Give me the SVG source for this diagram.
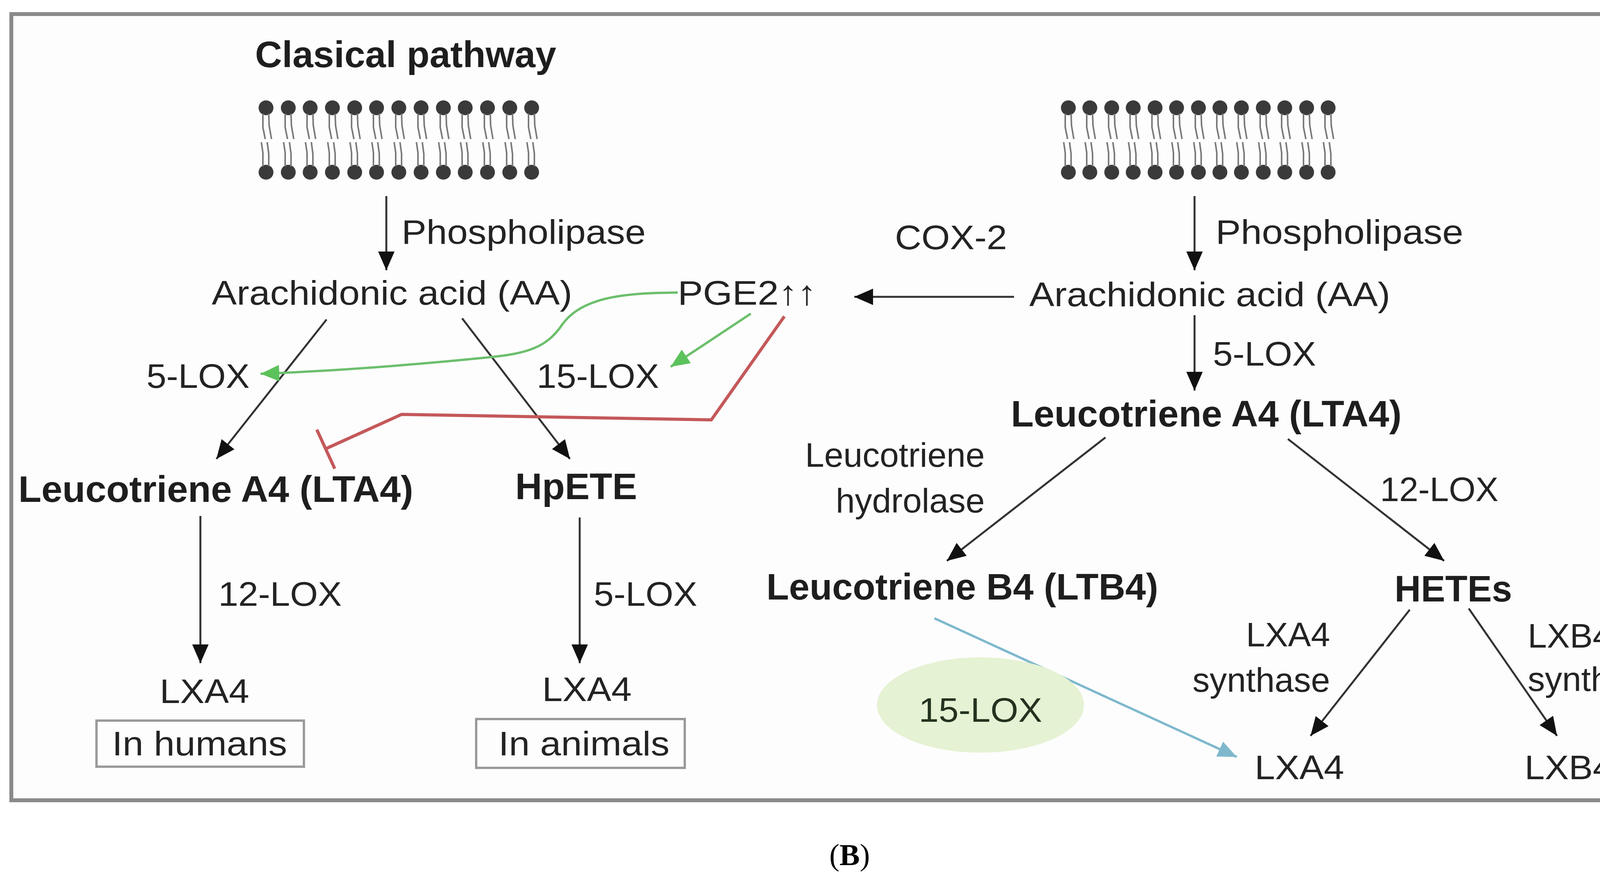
<svg xmlns="http://www.w3.org/2000/svg" xmlns:xlink="http://www.w3.org/1999/xlink" width="4357" height="2248" viewBox="0 0 4357 2248">
<style>
.t{font-family:"Liberation Sans",Arial,sans-serif;font-size:88px;fill:#232323}
.b{font-family:"Liberation Sans",Arial,sans-serif;font-size:94px;font-weight:bold;fill:#1e1e1e}
.ln{stroke:#333;stroke-width:5;fill:none}
.tail{stroke:#7a7a7a;stroke-width:4;fill:none}
</style>
<defs>
<marker id="ah" markerUnits="userSpaceOnUse" markerWidth="50" markerHeight="44" refX="48" refY="21" orient="auto"><path d="M0,0 L48,21 L0,42 z" fill="#111"/></marker>
<marker id="ag" markerUnits="userSpaceOnUse" markerWidth="50" markerHeight="44" refX="48" refY="21" orient="auto"><path d="M0,0 L48,21 L0,42 z" fill="#5cc25c"/></marker>
<marker id="ab" markerUnits="userSpaceOnUse" markerWidth="50" markerHeight="44" refX="48" refY="21" orient="auto"><path d="M0,0 L48,21 L0,42 z" fill="#7fb8cc"/></marker>
<g id="lipid">
<circle cx="0" cy="0" r="19" fill="#3a3a3a"/>
<path class="tail" d="M-8,15 L-8,50 L-2,80 M7,15 L8,45 L14,80"/>
<circle cx="0" cy="165" r="19" fill="#3a3a3a"/>
<path class="tail" d="M-8,150 L-8,115 L-12,88 M7,150 L7,118 L3,88"/>
</g>
</defs>
<rect x="0" y="0" width="4357" height="2248" fill="#fff"/>
<rect id="frame" x="29" y="36" width="4301" height="2013" fill="#fdfdfd" stroke="#8a8a8a" stroke-width="10"/>

<g id="membrane-left">
<use xlink:href="#lipid" x="681" y="276"/><use xlink:href="#lipid" x="738" y="276"/><use xlink:href="#lipid" x="794" y="276"/><use xlink:href="#lipid" x="851" y="276"/><use xlink:href="#lipid" x="908" y="276"/><use xlink:href="#lipid" x="964" y="276"/><use xlink:href="#lipid" x="1021" y="276"/><use xlink:href="#lipid" x="1078" y="276"/><use xlink:href="#lipid" x="1135" y="276"/><use xlink:href="#lipid" x="1191" y="276"/><use xlink:href="#lipid" x="1248" y="276"/><use xlink:href="#lipid" x="1305" y="276"/><use xlink:href="#lipid" x="1361" y="276"/>
</g>
<g id="membrane-right">
<use xlink:href="#lipid" x="2735" y="276"/><use xlink:href="#lipid" x="2790" y="276"/><use xlink:href="#lipid" x="2846" y="276"/><use xlink:href="#lipid" x="2901" y="276"/><use xlink:href="#lipid" x="2957" y="276"/><use xlink:href="#lipid" x="3012" y="276"/><use xlink:href="#lipid" x="3068" y="276"/><use xlink:href="#lipid" x="3123" y="276"/><use xlink:href="#lipid" x="3178" y="276"/><use xlink:href="#lipid" x="3234" y="276"/><use xlink:href="#lipid" x="3289" y="276"/><use xlink:href="#lipid" x="3345" y="276"/><use xlink:href="#lipid" x="3400" y="276"/>
</g>

<g id="connectors">
<line class="ln" x1="989" y1="502" x2="989" y2="692" marker-end="url(#ah)"/>
<line class="ln" x1="836" y1="818" x2="554" y2="1175" marker-end="url(#ah)"/>
<line class="ln" x1="1183" y1="815" x2="1459" y2="1175" marker-end="url(#ah)"/>
<line class="ln" x1="513" y1="1321" x2="513" y2="1698" marker-end="url(#ah)"/>
<line class="ln" x1="1484" y1="1325" x2="1484" y2="1698" marker-end="url(#ah)"/>
<line class="ln" x1="3058" y1="502" x2="3058" y2="692" marker-end="url(#ah)"/>
<line class="ln" x1="3058" y1="807" x2="3058" y2="1000" marker-end="url(#ah)"/>
<line class="ln" x1="2596" y1="760" x2="2187" y2="760" marker-end="url(#ah)"/>
<line class="ln" x1="2830" y1="1120" x2="2424" y2="1436" marker-end="url(#ah)"/>
<line class="ln" x1="3297" y1="1124" x2="3697" y2="1436" marker-end="url(#ah)"/>
<line class="ln" x1="3609" y1="1561" x2="3355" y2="1884" marker-end="url(#ah)"/>
<line class="ln" x1="3760" y1="1558" x2="3986" y2="1884" marker-end="url(#ah)"/>
<path d="M1735,749 C1600,750 1490,760 1440,830 C1400,890 1350,905 1250,915 C1050,935 850,950 667,957" stroke="#6cbf6c" stroke-width="6" fill="none" marker-end="url(#ag)"/>
<line x1="1922" y1="803" x2="1717" y2="939" stroke="#6cbf6c" stroke-width="6" marker-end="url(#ag)"/>
<path d="M2008,810 L1821,1075 L1028,1061 L836,1148" stroke="#c4585a" stroke-width="8" fill="none"/>
<line x1="811" y1="1100" x2="857" y2="1200" stroke="#c4585a" stroke-width="8"/>
<line x1="2392" y1="1583" x2="3166" y2="1938" stroke="#7fb8cc" stroke-width="6" marker-end="url(#ab)"/>
</g>

<g id="title"><text class="b" x="653" y="172" textLength="771" lengthAdjust="spacingAndGlyphs">Clasical pathway</text></g>
<g id="phospholipase-left"><text class="t" x="1028" y="624" textLength="625" lengthAdjust="spacingAndGlyphs">Phospholipase</text></g>
<g id="aa-left"><text class="t" x="542" y="780" textLength="923" lengthAdjust="spacingAndGlyphs">Arachidonic acid (AA)</text></g>
<g id="pge2"><text class="t" x="1735" y="780" textLength="355" lengthAdjust="spacingAndGlyphs">PGE2↑↑</text></g>
<g id="lox5-left"><text class="t" x="375" y="993" textLength="264" lengthAdjust="spacingAndGlyphs">5-LOX</text></g>
<g id="lox15-left"><text class="t" x="1374" y="993" textLength="313" lengthAdjust="spacingAndGlyphs">15-LOX</text></g>
<g id="lta4-left"><text class="b" x="47" y="1285" textLength="1011" lengthAdjust="spacingAndGlyphs">Leucotriene A4 (LTA4)</text></g>
<g id="hpete"><text class="b" x="1319" y="1278" textLength="312" lengthAdjust="spacingAndGlyphs">HpETE</text></g>
<g id="lox12-left"><text class="t" x="559" y="1551" textLength="316" lengthAdjust="spacingAndGlyphs">12-LOX</text></g>
<g id="lox5-mid"><text class="t" x="1520" y="1551" textLength="265" lengthAdjust="spacingAndGlyphs">5-LOX</text></g>
<g id="lxa4-humans"><text class="t" x="409" y="1800" textLength="229" lengthAdjust="spacingAndGlyphs">LXA4</text>
<rect x="247" y="1845" width="531" height="118" fill="none" stroke="#9a9a9a" stroke-width="6"/>
<text class="t" x="287" y="1934" textLength="448" lengthAdjust="spacingAndGlyphs">In humans</text></g>
<g id="lxa4-animals"><text class="t" x="1388" y="1795" textLength="229" lengthAdjust="spacingAndGlyphs">LXA4</text>
<rect x="1219" y="1841" width="534" height="125" fill="none" stroke="#9a9a9a" stroke-width="6"/>
<text class="t" x="1276" y="1934" textLength="438" lengthAdjust="spacingAndGlyphs">In animals</text></g>
<g id="cox2"><text class="t" x="2291" y="638" textLength="287" lengthAdjust="spacingAndGlyphs">COX-2</text></g>
<g id="phospholipase-right"><text class="t" x="3112" y="624" textLength="634" lengthAdjust="spacingAndGlyphs">Phospholipase</text></g>
<g id="aa-right"><text class="t" x="2635" y="784" textLength="924" lengthAdjust="spacingAndGlyphs">Arachidonic acid (AA)</text></g>
<g id="lox5-right"><text class="t" x="3105" y="936" textLength="264" lengthAdjust="spacingAndGlyphs">5-LOX</text></g>
<g id="lta4-right"><text class="b" x="2588" y="1092" textLength="1000" lengthAdjust="spacingAndGlyphs">Leucotriene A4 (LTA4)</text></g>
<g id="hydrolase"><text class="t" x="2521" y="1195" text-anchor="end">Leucotriene</text><text class="t" x="2521" y="1312" text-anchor="end">hydrolase</text></g>
<g id="lox12-right"><text class="t" x="3533" y="1283" textLength="303" lengthAdjust="spacingAndGlyphs">12-LOX</text></g>
<g id="ltb4"><text class="b" x="1962" y="1535" textLength="1003" lengthAdjust="spacingAndGlyphs">Leucotriene B4 (LTB4)</text></g>
<g id="hetes"><text class="b" x="3570" y="1540" textLength="301" lengthAdjust="spacingAndGlyphs">HETEs</text></g>
<g id="lxa4-synthase"><text class="t" x="3405" y="1655" text-anchor="end">LXA4</text><text class="t" x="3405" y="1771" text-anchor="end">synthase</text></g>
<g id="lxb4-synthase"><text class="t" x="3911" y="1658">LXB4</text><text class="t" x="3911" y="1769">synthase</text></g>
<g id="lox15-ellipse"><ellipse cx="2510" cy="1805" rx="265" ry="122" fill="#e5f2d3"/>
<text class="t" x="2352" y="1848" textLength="316" lengthAdjust="spacingAndGlyphs" style="fill:#24331f">15-LOX</text></g>
<g id="lxa4-right"><text class="t" x="3212" y="1995" textLength="229" lengthAdjust="spacingAndGlyphs">LXA4</text></g>
<g id="lxb4"><text class="t" x="3903" y="1995" textLength="226" lengthAdjust="spacingAndGlyphs">LXB4</text></g>
<text x="2175" y="2215" text-anchor="middle" style="font-family:'Liberation Serif','Times New Roman',serif;font-size:78px;fill:#000">(<tspan font-weight="bold">B</tspan>)</text>
</svg>
